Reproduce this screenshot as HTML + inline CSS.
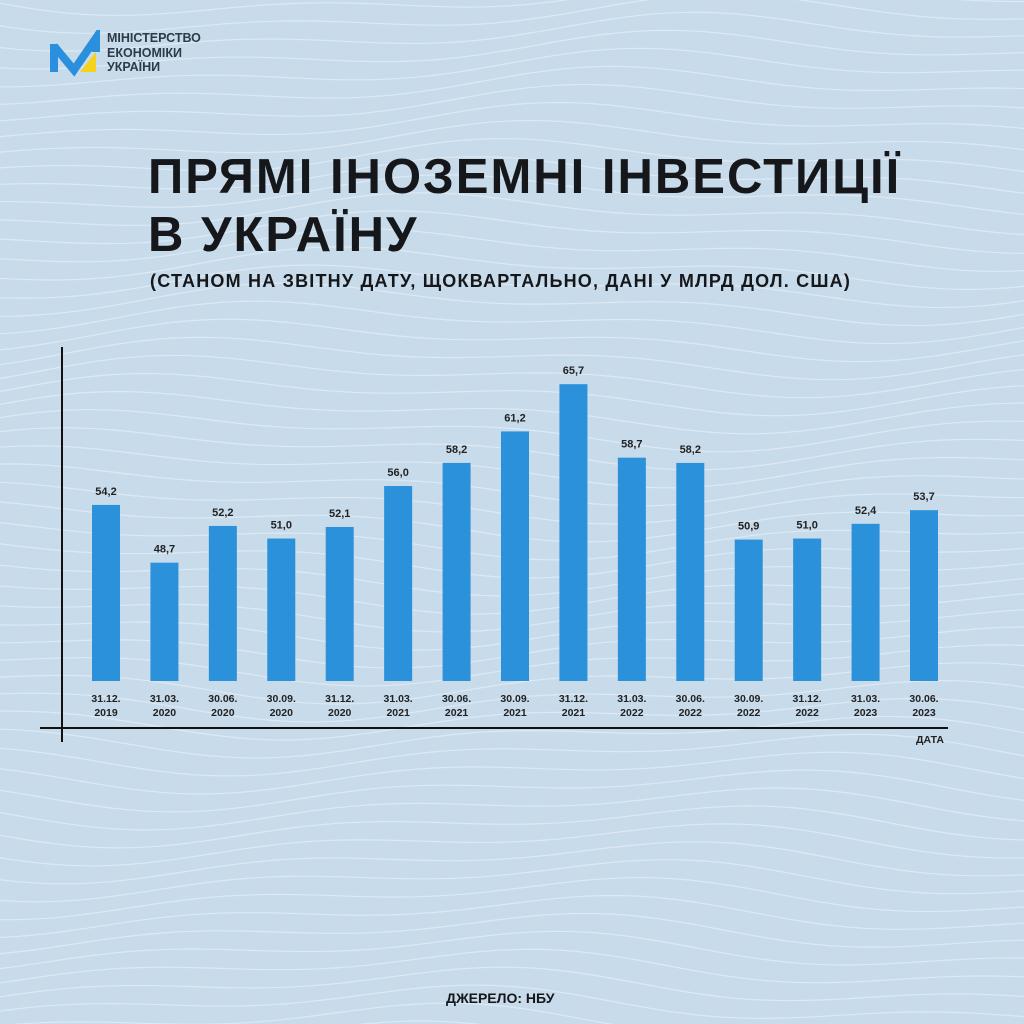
<!DOCTYPE html>
<html><head><meta charset="utf-8"><style>
body{margin:0;width:1024px;height:1024px;overflow:hidden;background:#c8dbeb;font-family:"Liberation Sans","DejaVu Sans",sans-serif;}
.t{position:absolute;color:#15171a;font-weight:bold;white-space:nowrap}
</style></head><body>
<svg width="1024" height="1024" style="position:absolute;left:0;top:0">
<g id="waves" fill="none" stroke="#e6eff7" stroke-width="1.2" opacity="0.7"></g>
</svg>
<svg width="60" height="50" style="position:absolute;top:30px;left:50px">
<path d="M4 14 L4 42 M4 16 L24 40 L46 8 L46 22" fill="none" stroke="#2a8fdc" stroke-width="8" stroke-linejoin="miter"/>
<path d="M30 42 L46 22 L46 42 Z" fill="#f5d21c"/>
</svg>
<div class="t" style="left:107px;top:31px;font-size:12.5px;line-height:14.5px;color:#2d3a48">МІНІСТЕРСТВО<br>ЕКОНОМІКИ<br>УКРАЇНИ</div>
<div class="t" style="left:148px;top:148px;font-size:49px;line-height:58px;letter-spacing:2px">ПРЯМІ ІНОЗЕМНІ ІНВЕСТИЦІЇ<br>В УКРАЇНУ</div>
<div class="t" style="left:150px;top:271px;font-size:18px;letter-spacing:1.2px">(СТАНОМ НА ЗВІТНУ ДАТУ, ЩОКВАРТАЛЬНО, ДАНІ У МЛРД ДОЛ. США)</div>
<svg id="chart" width="1024" height="1024" style="position:absolute;left:0;top:0"></svg>
<div class="t" style="left:446px;top:990px;font-size:14px">ДЖЕРЕЛО: НБУ</div>
<script>
const categories=["31.12.|2019","31.03.|2020","30.06.|2020","30.09.|2020","31.12.|2020","31.03.|2021","30.06.|2021","30.09.|2021","31.12.|2021","31.03.|2022","30.06.|2022","30.09.|2022","31.12.|2022","31.03.|2023","30.06.|2023"];
const values=[54.2,48.7,52.2,51.0,52.1,56.0,58.2,61.2,65.7,58.7,58.2,50.9,51.0,52.4,53.7];
const valueLabels=["54,2","48,7","52,2","51,0","52,1","56,0","58,2","61,2","65,7","58,7","58,2","50,9","51,0","52,4","53,7"];
const NS="http://www.w3.org/2000/svg";
const svg=document.getElementById('chart');
function xPos(i){return 106+i*(924-106)/(categories.length-1);}
function yPos(v){return 681-(185+10.5*(v-55.05));}
function mk(t,a){const e=document.createElementNS(NS,t);for(const k in a)e.setAttribute(k,a[k]);svg.appendChild(e);return e;}
const wg=document.getElementById('waves');
for(let k=0;k<60;k++){const p=document.createElementNS(NS,'path');let d='';const y0=k*18-20;
for(let x=0;x<=1024;x+=16){const y=y0+14*Math.sin(x/170+k*0.15)+8*Math.sin(x/70+k*0.4);d+=(x?'L':'M')+x+' '+y.toFixed(1);}
p.setAttribute('d',d);wg.appendChild(p);}
const ya=mk('line',{x1:62,y1:347,x2:62,y2:742,stroke:'#111','stroke-width':2});


const xa=mk('line',{x1:40,y1:728,x2:948,y2:728,stroke:'#111','stroke-width':2});


values.forEach((v,i)=>{
 const x=xPos(i),y=yPos(v);
 const r=mk('rect',{x:x-14,y:y,width:28,height:681-y,fill:'#2b91da'});
 
 
 const t=mk('text',{x:x,y:y-10,'text-anchor':'middle','font-size':11,'font-weight':'bold',fill:'#222'});
 t.textContent=valueLabels[i];
 
 
 const parts=categories[i].split('|');
 parts.forEach((s,j)=>{const c=mk('text',{x:x,y:702+j*14,'text-anchor':'middle','font-size':10.5,'font-weight':'bold',fill:'#222'});c.textContent=s;
 
 });
});
const xt=mk('text',{x:930,y:743,'text-anchor':'middle','font-size':10.5,'font-weight':'bold',fill:'#222'});
xt.textContent='ДАТА';


</script>
</body></html>
